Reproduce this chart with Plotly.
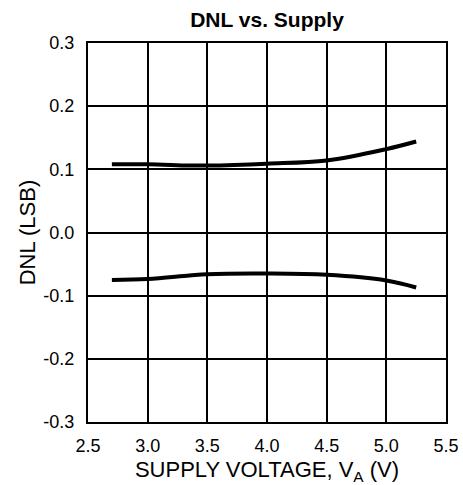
import plotly.graph_objects as go

voltage = [2.7, 3.0, 3.35, 3.5, 4.0, 4.5, 5.0, 5.25]
dnl_max = [0.108, 0.108, 0.106, 0.106, 0.109, 0.114, 0.132, 0.144]
dnl_min = [-0.075, -0.0735, -0.068, -0.066, -0.065, -0.067, -0.076, -0.087]

x_ticks = [2.5, 3.0, 3.5, 4.0, 4.5, 5.0, 5.5]
y_ticks = [-0.3, -0.2, -0.1, 0.0, 0.1, 0.2, 0.3]

fig = go.Figure()
for ys in (dnl_max, dnl_min):
    fig.add_trace(go.Scatter(x=voltage, y=ys, mode="lines",
                             line=dict(color="black", width=4, shape="spline", smoothing=1.0),
                             showlegend=False))

font = dict(family="Liberation Sans, Arial, sans-serif", color="black", size=18)
fig.update_layout(
    width=463, height=485,
    margin=dict(l=88, r=17, t=43, b=63, autoexpand=False),
    paper_bgcolor="white", plot_bgcolor="white",
    font=font,
    title=dict(text="<b>DNL vs. Supply</b>", x=0.5, xref="paper", xanchor="center",
               y=1 - 20/485, yanchor="middle", font=dict(size=21)),
    xaxis=dict(range=[2.5, 5.5], tickvals=x_ticks, ticktext=[f"{v:.1f}" for v in x_ticks],
               showgrid=True, gridcolor="black", gridwidth=1.5,
               showline=True, linecolor="black", linewidth=2, mirror=True,
               ticks="", zeroline=False, automargin=False, ticklabelstandoff=6,
               title=dict(text="SUPPLY VOLTAGE, V<sub>A</sub> (V)", standoff=25)),
    yaxis=dict(range=[-0.3, 0.3], tickvals=y_ticks, ticktext=[f"{v:.1f}" for v in y_ticks],
               showgrid=True, gridcolor="black", gridwidth=1.5,
               showline=True, linecolor="black", linewidth=2, mirror=True,
               ticks="", zeroline=False, automargin=False, ticklabelstandoff=8,
               title=dict(text="DNL (LSB)", standoff=2)),
)
fig.write_html("out.html", config={"displayModeBar": False},
               post_script="document.body.style.margin='0';")
